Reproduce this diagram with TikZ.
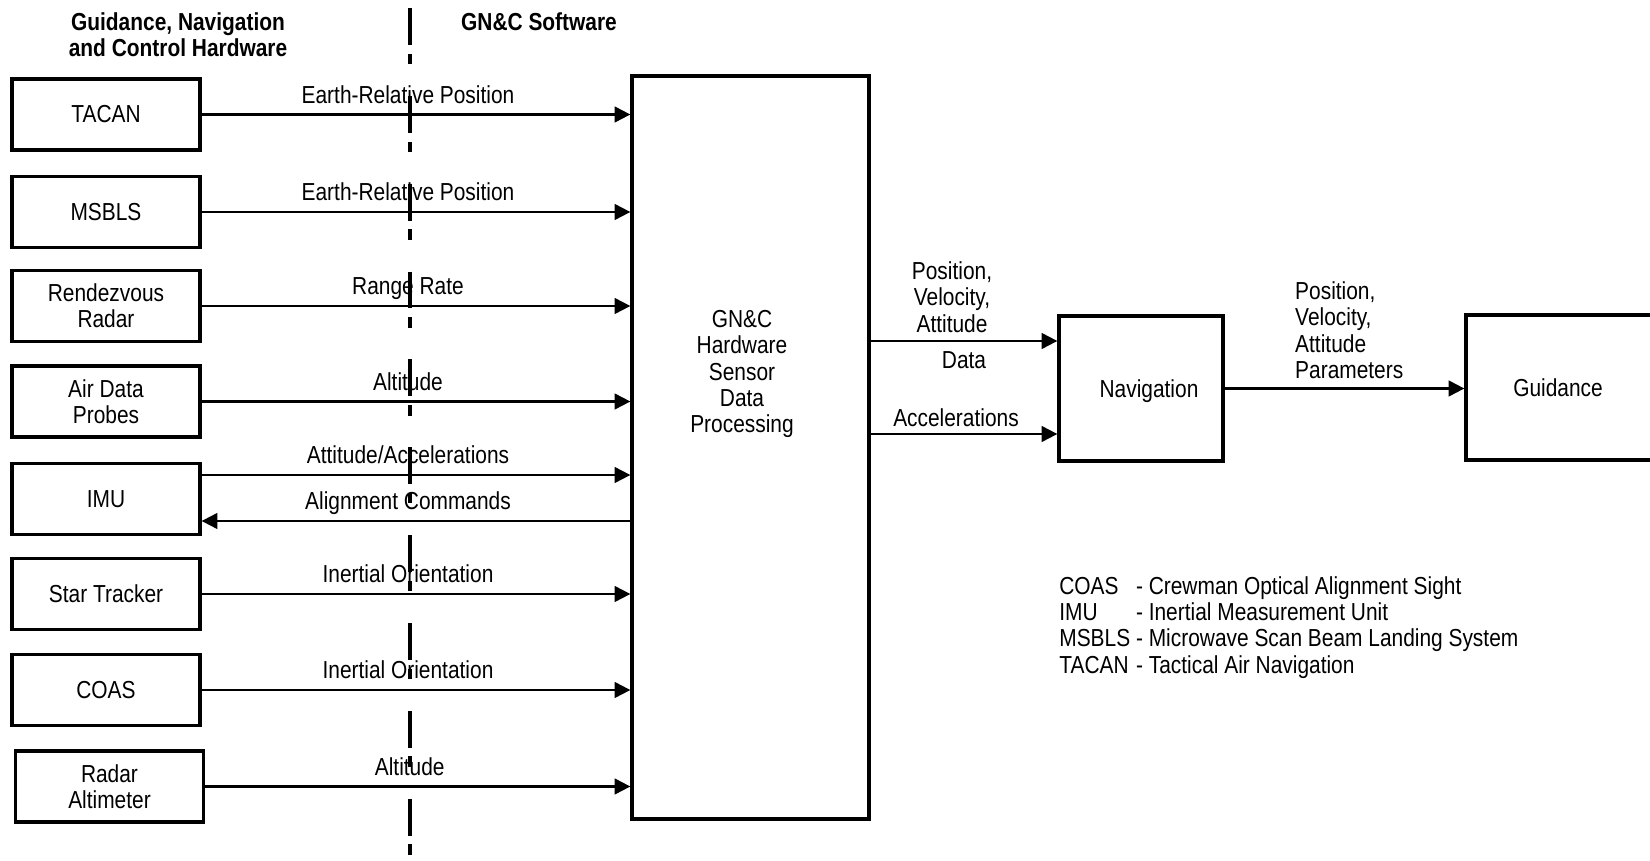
\documentclass[tikz,border=0pt]{standalone}
\usepackage{fontspec}
\setmainfont{Liberation Sans}[FakeStretch=0.85]
\usetikzlibrary{arrows.meta, positioning, calc}
\newcommand{\lbl}{\fontsize{14}{15}\selectfont}

\begin{document}
\begin{tikzpicture}[x=0.02cm, y=-0.02cm, >={Triangle[length=9pt, width=9pt]},
  every node/.style={font=\lbl},
  hwbox/.style={draw, line width=1.9pt, minimum width=3.76cm, minimum height=1.42cm, align=center},
  swbox/.style={draw, line width=1.9pt, minimum width=3.28cm, minimum height=2.9cm},
  flow/.style={->, line width=1.2pt},
  flowlbl/.style={midway, anchor=base, yshift=6.5pt, xshift=-0.16cm},
  divider/.style={line width=2.2pt, dash pattern=on 21pt off 5pt on 6pt off 18pt}]
  \useasboundingbox (0,0) rectangle (1650,861);

  % headings and the hardware/software divide
  \node[align=center, font=\lbl\bfseries] (hwhead) at (178,35) {Guidance, Navigation\\and Control Hardware};
  \node[font=\lbl\bfseries] (swhead) at (539,22) {GN\&C Software};
  \coordinate (divtop) at (410,8);
  \coordinate (divbot) at (410,861);
  \draw[divider] (divtop) -- (divbot);

  % hardware
  \node[hwbox] (tacan) at (106,114.5) {TACAN};
  \node[hwbox] (msbls) at (106,212) {MSBLS};
  \node[hwbox] (rvradar) at (106,306) {Rendezvous\\Radar};
  \node[hwbox] (adprobes) at (106,401.5) {Air Data\\Probes};
  \node[hwbox] (imu) at (106,499) {IMU};
  \node[hwbox] (startrk) at (106,594) {Star Tracker};
  \node[hwbox] (coas) at (106,690) {COAS};
  \node[hwbox] (radalt) at (109.5,786.5) {Radar\\Altimeter};

  % software
  \node[draw, line width=1.9pt, minimum width=4.74cm, minimum height=14.86cm] (proc) at (750.5,447.5) {};
  \node[align=center] (proctxt) at (742,374) {GN\&C\\Hardware\\Sensor\\Data\\Processing};
  \node[swbox] (nav) at (1141,388.5) {};
  \node (navtxt) at (1149,391) {Navigation};
  \node[swbox, minimum width=4.36cm] (guid) at (1575,387.5) {};
  \node (guidtxt) at (1558,387.5) {Guidance};

  \draw[flow] (tacan.east) -- (tacan.east -| proc.west) node[flowlbl] (lbltacan) {Earth-Relative Position};
  \draw[flow] (msbls.east) -- (msbls.east -| proc.west) node[flowlbl] (lblmsbls) {Earth-Relative Position};
  \draw[flow] (rvradar.east) -- (rvradar.east -| proc.west) node[flowlbl] (lblrv) {Range Rate};
  \draw[flow] (adprobes.east) -- (adprobes.east -| proc.west) node[flowlbl] (lblad) {Altitude};
  \coordinate (imuout) at ($(imu.east)+(0,-24)$);
  \coordinate (imuin) at ($(imu.east)+(0,22)$);
  \draw[flow] (imuout) -- (imuout -| proc.west) node[flowlbl] (lblimuout) {Attitude/Accelerations};
  \draw[flow] (imuin -| proc.west) -- (imuin) node[flowlbl] (lblimuin) {Alignment Commands};
  \draw[flow] (startrk.east) -- (startrk.east -| proc.west) node[flowlbl] (lblst) {Inertial Orientation};
  \draw[flow] (coas.east) -- (coas.east -| proc.west) node[flowlbl] (lblcoas) {Inertial Orientation};
  \draw[flow] (radalt.east) -- (radalt.east -| proc.west) node[flowlbl] (lblra) {Altitude};

  \coordinate (navin1) at ($(nav.west)+(0,-47.5)$);
  \coordinate (navin2) at ($(nav.west)+(0,45.5)$);
  \draw[flow] (navin1 -| proc.east) -- (navin1)
    node[midway, above=1pt, align=center, xshift=-0.24cm] (lblpva) {Position,\\Velocity,\\Attitude}
    node[midway, below=2pt] (lbldata) {Data};
  \draw[flow] (navin2 -| proc.east) -- (navin2) node[flowlbl, yshift=-2.5pt] (lblacc) {Accelerations};
  \draw[flow] (nav.east) -- (nav.east -| guid.west)
    node[pos=0.29, anchor=south west, align=left, inner sep=0pt, yshift=5pt] (lblparam) {Position,\\Velocity,\\Attitude\\Parameters};

  % abbreviations
  \node[anchor=base west, inner sep=0pt] (legend) at (1059,594) {\begin{tabular}[t]{@{}l@{\ }l@{}}
    COAS & - Crewman Optical Alignment Sight\\
    IMU & - Inertial Measurement Unit\\
    MSBLS & - Microwave Scan Beam Landing System\\
    TACAN & - Tactical Air Navigation
  \end{tabular}};
\end{tikzpicture}
\end{document}
